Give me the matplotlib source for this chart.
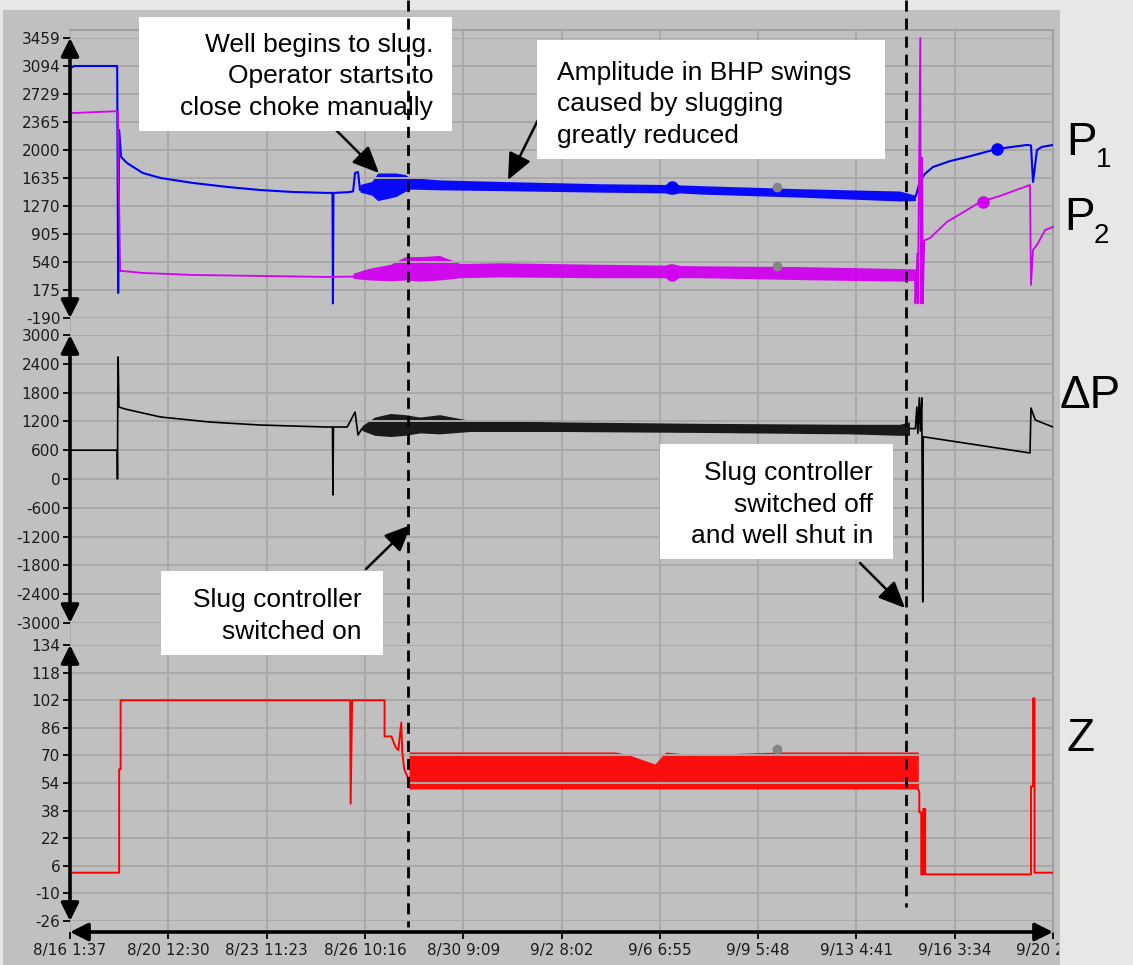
import matplotlib
matplotlib.use("Agg")
import matplotlib.pyplot as plt
from matplotlib.patches import Rectangle, FancyArrowPatch
from matplotlib.lines import Line2D
from matplotlib.transforms import Bbox, TransformedBbox

W, H = 1133, 965

# x runs in chart divisions: one unit per time-axis grid cell
TIME_LABELS = ["8/16 1:37", "8/20 12:30", "8/23 11:23", "8/26 10:16", "8/30 9:09",
               "9/2 8:02", "9/6 6:55", "9/9 5:48", "9/13 4:41", "9/16 3:34", "9/20 2:27"]
P_TICKS = [-190, 175, 540, 905, 1270, 1635, 2000, 2365, 2729, 3094, 3459]
DP_TICKS = [-3000, -2400, -1800, -1200, -600, 0, 600, 1200, 1800, 2400, 3000]
Z_TICKS = [-26, -10, 6, 22, 38, 54, 70, 86, 102, 118, 134]

# P1 (blue) - before slugging, slug band, after shut-in
p1_t = [0, 0.04, 0.48, 0.49, 0.50, 0.52, 0.58, 0.74, 0.92, 1.25, 1.60, 1.93, 2.27,
        2.61, 2.67, 2.675, 2.68, 2.83, 2.88, 2.90, 2.93, 2.95]
p1_v = [3060, 3094, 3094, 136, 2260, 1908, 1830, 1700, 1635, 1570, 1518, 1478, 1452,
        1440, 1440, 0, 1440, 1450, 1460, 1700, 1713, 1480]
p1_band_t = [2.95, 3.07, 3.13, 3.31, 3.41, 3.46, 3.76, 4.37, 5.39, 6.05, 6.12, 6.20,
             6.41, 7.43, 8.44, 8.60]
p1_band_lo = [1450, 1410, 1340, 1390, 1460, 1490, 1480, 1470, 1450, 1440, 1420, 1440,
              1425, 1385, 1335, 1340]
p1_band_hi = [1550, 1590, 1700, 1700, 1680, 1640, 1610, 1590, 1560, 1550, 1580, 1545,
              1535, 1495, 1465, 1410]
p1_after_t = [8.60, 8.617, 8.647, 8.698, 8.779, 8.952, 9.125, 9.430, 9.735, 9.776,
              9.797, 9.837, 9.888, 10.0]
p1_after_v = [1390, 1452, 1600, 1690, 1778, 1855, 1908, 2013, 2065, 2060,
              1583, 2000, 2040, 2065]

# P2 (magenta)
p2_t = [0, 0.48, 0.488, 0.493, 0.50, 0.51, 0.53, 0.74, 1.25, 1.93, 2.61, 2.88]
p2_v = [2480, 2505, 2505, 1600, 1300, 420, 423, 397, 371, 358, 345, 350]
p2_band_t = [2.88, 3.05, 3.26, 3.41, 3.56, 3.76, 3.97, 4.37, 5.39, 6.05, 6.12, 6.20,
             6.41, 7.43, 8.44, 8.60]
p2_band_lo = [325, 305, 295, 305, 290, 305, 335, 345, 335, 335, 300, 335,
              335, 310, 290, 300]
p2_band_hi = [395, 460, 510, 610, 610, 625, 520, 530, 510, 500, 520, 495,
              490, 480, 455, 450]
p2_after_t = [8.596, 8.60, 8.62, 8.625, 8.65, 8.655, 8.67, 8.675, 8.69, 8.75, 8.92,
              9.26, 9.46, 9.766, 9.776, 9.797, 9.837, 9.92, 10.0]
p2_after_v = [400, 0, 650, 0, 3459, 0, 1900, 0, 820, 853, 1061,
              1322, 1400, 1544, 241, 700, 762, 957, 996]

# delta P (black)
dp_t = [0, 0.48, 0.483, 0.487, 0.49, 0.497, 0.56, 0.92, 1.42, 1.93, 2.61, 2.67,
        2.675, 2.68, 2.82, 2.90, 2.93, 2.97]
dp_v = [600, 600, 0, 2300, 2542, 1500, 1458, 1292, 1187, 1125, 1083, 1083,
        -333, 1083, 1083, 1396, 917, 1050]
dp_band_t = [2.97, 3.10, 3.26, 3.41, 3.56, 3.76, 4.07, 4.98, 6.41, 7.93, 8.44, 8.54]
dp_band_lo = [1010, 910, 885, 910, 960, 940, 990, 990, 970, 940, 910, 910]
dp_band_hi = [1110, 1290, 1365, 1340, 1290, 1340, 1220, 1190, 1160, 1140, 1140, 1190]
dp_after_t = [8.54, 8.60, 8.615, 8.625, 8.64, 8.65, 8.665, 8.675, 8.68, 9.766,
              9.776, 9.82, 10.0]
dp_after_v = [1050, 1050, 1500, 950, 1690, 1000, 1690, -2560, 880, 542,
              1479, 1229, 1083]

# Z (red, choke opening)
z_t = [0, 0.50, 0.50, 0.515, 0.515, 2.85, 2.855, 2.87, 3.20, 3.20, 3.27, 3.29,
       3.31, 3.34, 3.37, 3.38, 3.40, 3.43, 3.45]
z_v = [2, 2, 62, 62, 102, 102, 42, 102, 102, 81, 81, 78,
       75, 73, 89, 72, 62, 58, 55]
z_band_t = [3.45, 5.55, 5.70, 5.85, 5.95, 6.06, 6.40, 6.70, 7.20, 8.63]
z_band_lo = [50.5, 50.5, 50.5, 50.5, 50.5, 50.5, 50.5, 50.5, 50.5, 50.5]
z_band_hi = [72, 72, 70, 67, 65, 72, 70, 71, 72, 72]
z_after_t = [8.63, 8.64, 8.64, 8.66, 8.66, 8.68, 8.68, 8.70, 8.70, 9.776, 9.776,
             9.797, 9.797, 9.812, 9.812, 10.0]
z_after_v = [50, 49, 37, 37, 1, 1, 39, 39, 1, 1, 52,
             52, 103, 103, 2, 2]

# trend-cursor dots
p1_dot_t, p1_dot_v = [6.124, 9.430], [1517, 2013]
p2_dot_t, p2_dot_v = [6.124, 9.288], [371, 1322]
grey_t = 7.192
grey_p1, grey_p2, grey_z = 1517, 488, 73.6

BLUE = "#0000ff"
MAG = "#d000f0"
RED = "#ff0000"
FRAME = "#c0c0c0"
GRID = "#a9a9a9"
TXT = "#1c1c1c"


def fx(px):
    return px / W


def fy(py):
    return 1 - py / H


def rect(left, top, right, bottom):
    return [fx(left), fy(bottom), fx(right) - fx(left), fy(top) - fy(bottom)]


fig = plt.figure(figsize=(W / 100, H / 100), dpi=100, facecolor="#e7e7e5")

fig.patches.append(Rectangle((fx(3), 0), fx(1060) - fx(3), fy(10),
                             transform=fig.transFigure, facecolor=FRAME,
                             edgecolor="none", zorder=-2))

# background plot area with the time axis
bg = fig.add_axes(rect(70, 30, 1053, 932))
bg.set_facecolor(FRAME)
bg.set_xlim(0, 10)
bg.set_ylim(0, 1)
bg.set_yticks([])
bg.set_xticks(range(11))
bg.set_xticklabels(TIME_LABELS, fontsize=11, color=TXT, family="DejaVu Sans")
bg.tick_params(axis="x", direction="out", length=5, width=1.3, pad=3, color="black")
bg.grid(axis="x", color=GRID, lw=1.4)
for s in ("left", "bottom"):
    bg.spines[s].set_visible(False)
for s in ("top", "right"):
    bg.spines[s].set_color("#9a9a9a")
    bg.spines[s].set_linewidth(1.2)
last = bg.get_xticklabels()[-1]
last.set_clip_on(True)
last.set_clip_box(TransformedBbox(Bbox.from_extents(0, 0, fx(1059), 1), fig.transFigure))


def panel(top, bottom, lo, hi, ticks):
    ax = fig.add_axes(rect(70, top, 1053, bottom))
    ax.set_facecolor("none")
    ax.set_xlim(0, 10)
    ax.set_ylim(lo, hi)
    ax.set_xticks([])
    ax.set_yticks(ticks)
    ax.set_yticklabels([str(t) for t in ticks], fontsize=11, color=TXT,
                       family="DejaVu Sans")
    ax.tick_params(axis="y", direction="out", length=5, width=1.3, pad=2, color="black")
    ax.grid(axis="y", color=GRID, lw=1.4)
    for s in ax.spines.values():
        s.set_visible(False)
    fig.patches.append(FancyArrowPatch(
        (fx(70), fy(bottom)), (fx(70), fy(top)), transform=fig.transFigure,
        arrowstyle="<|-|>,head_length=0.6,head_width=0.3", mutation_scale=18,
        lw=2.6, color="black", shrinkA=0, shrinkB=0, zorder=4))
    return ax


ax1 = panel(38, 318, -190, 3459, P_TICKS)
ax2 = panel(335, 623, -3000, 3000, DP_TICKS)
ax3 = panel(645, 921, -26, 134, Z_TICKS)

fig.patches.append(FancyArrowPatch(
    (fx(70), fy(932)), (fx(1053), fy(932)), transform=fig.transFigure,
    arrowstyle="<|-|>,head_length=0.6,head_width=0.3", mutation_scale=18,
    lw=2.6, color="black", shrinkA=0, shrinkB=0, zorder=4))

# pressures
ax1.plot(p1_t, p1_v, color=BLUE, lw=1.5)
ax1.fill_between(p1_band_t, p1_band_lo, p1_band_hi, color=BLUE, lw=0, alpha=0.95)
ax1.plot(p1_after_t, p1_after_v, color=BLUE, lw=1.5)
ax1.plot(p2_t, p2_v, color=MAG, lw=1.3)
ax1.fill_between(p2_band_t, p2_band_lo, p2_band_hi, color=MAG, lw=0, alpha=0.95)
ax1.plot(p2_after_t, p2_after_v, color=MAG, lw=1.3, clip_on=False)
ax1.plot(p1_dot_t, p1_dot_v, "o", color=BLUE, ms=8)
ax1.plot(p2_dot_t, p2_dot_v, "o", color=MAG, ms=8)
ax1.plot([grey_t, grey_t], [grey_p1, grey_p2], "o", color="#858585", ms=6)

# differential pressure
ax2.plot(dp_t, dp_v, color="black", lw=1.2)
ax2.fill_between(dp_band_t, dp_band_lo, dp_band_hi, color="#101010", lw=0, alpha=0.95)
ax2.plot(dp_after_t, dp_after_v, color="black", lw=1.2)

# choke
ax3.plot(z_t, z_v, color=RED, lw=1.4)
ax3.fill_between(z_band_t, z_band_lo, z_band_hi, color=RED, lw=0, alpha=0.93)
ax3.plot(z_after_t, z_after_v, color=RED, lw=1.4)
ax3.plot([grey_t], [grey_z], "o", color="#858585", ms=6)

# annotation boxes
ANN = dict(family="Liberation Sans", fontsize=19, color="black", zorder=7)


def box(left, top, right, bottom):
    fig.patches.append(Rectangle((fx(left), fy(bottom)), fx(right) - fx(left),
                                 fy(top) - fy(bottom), transform=fig.transFigure,
                                 facecolor="white", edgecolor="none", zorder=6))


def lines(x, baselines, texts, ha):
    for b, t in zip(baselines, texts):
        fig.text(fx(x), fy(b), t, ha=ha, va="baseline", **ANN)


def arrow(x0, y0, x1, y1):
    fig.patches.append(FancyArrowPatch(
        (fx(x0), fy(y0)), (fx(x1), fy(y1)), transform=fig.transFigure,
        arrowstyle="-|>,head_length=0.9,head_width=0.4", mutation_scale=18,
        lw=1.8, color="black", shrinkA=0, shrinkB=0, zorder=5))


box(139, 17, 452, 131)
lines(433, [52, 83, 115], ["Well begins to slug.", "Operator starts to",
                           "close choke manually"], "right")
arrow(333, 127, 379, 173)

box(537, 40, 885, 159)
lines(557, [80, 111, 143], ["Amplitude in BHP swings", "caused by slugging",
                            "greatly reduced"], "left")
arrow(548, 100, 508, 180)

box(660, 444, 893, 559)
lines(873, [480, 512, 543], ["Slug controller", "switched off",
                             "and well shut in"], "right")
arrow(860, 563, 905, 608)

box(161, 571, 383, 655)
lines(362, [607, 639], ["Slug controller", "switched on"], "right")
arrow(366, 569, 411, 525)

# controller on / off markers
for x, y1 in ((408, 927), (906, 907)):
    fig.add_artist(Line2D([fx(x), fx(x)], [fy(0), fy(y1)], transform=fig.transFigure,
                          color="black", lw=2, linestyle=(0, (4, 2.5)), zorder=8))

# series names on the right
BIG = dict(family="Liberation Sans", color="black", va="baseline")
fig.text(fx(1066), fy(155), "P", fontsize=33, **BIG)
fig.text(fx(1096), fy(167), "1", fontsize=20, **BIG)
fig.text(fx(1064), fy(230), "P", fontsize=33, **BIG)
fig.text(fx(1094), fy(243), "2", fontsize=20, **BIG)
fig.text(fx(1060), fy(408), "\u0394P", fontsize=33, **BIG)
fig.text(fx(1066), fy(751), "Z", fontsize=33, **BIG)

fig.savefig("out.png", dpi=100, facecolor=fig.get_facecolor())
